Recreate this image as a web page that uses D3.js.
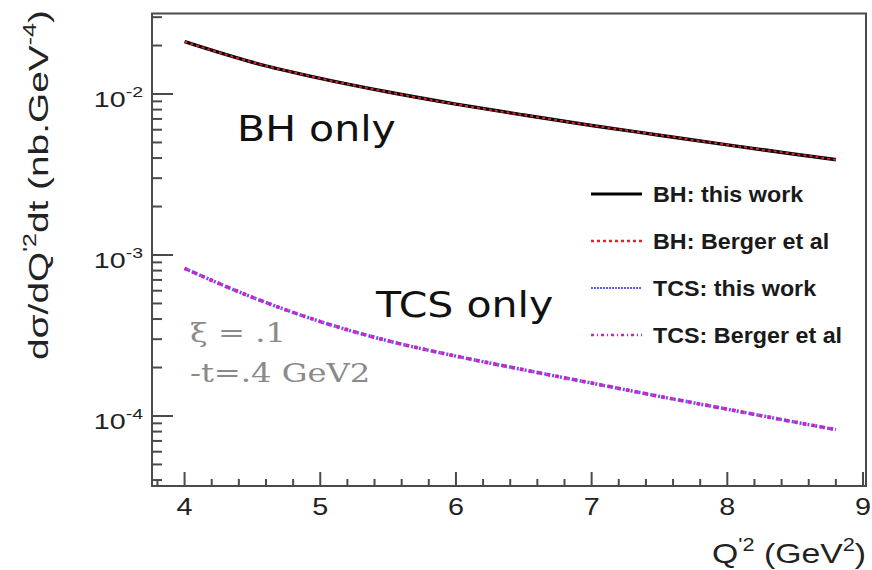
<!DOCTYPE html>
<html>
<head>
<meta charset="utf-8">
<script src="https://cdn.jsdelivr.net/npm/d3@7"></script>
<style>
  html, body { margin: 0; padding: 0; background: #fff; }
  svg { display: block; }
</style>
</head>
<body>
<svg id="chart" width="872" height="570"></svg>
<script>
// Q'^2 sample points (GeV^2)
const q2 = [4.0, 4.5, 5.0, 5.5, 6.0, 6.5, 7.0, 7.5, 8.0, 8.5, 8.8];

// Bethe-Heitler cross section (nb.GeV^-4)
const bhThisWork = [0.02113, 0.01574, 0.01250, 0.01028, 0.00865, 0.00740, 0.00638, 0.00555, 0.00483, 0.00423, 0.00391];
const bhBerger   = [0.02113, 0.01574, 0.01250, 0.01028, 0.00865, 0.00740, 0.00638, 0.00555, 0.00483, 0.00423, 0.00391];

// Timelike Compton scattering cross section (nb.GeV^-4)
const tcsThisWork = [8.26e-4, 5.46e-4, 3.86e-4, 2.93e-4, 2.355e-4, 1.936e-4, 1.601e-4, 1.324e-4, 1.102e-4, 9.16e-5, 8.23e-5];
const tcsBerger   = [8.26e-4, 5.46e-4, 3.86e-4, 2.93e-4, 2.355e-4, 1.936e-4, 1.601e-4, 1.324e-4, 1.102e-4, 9.16e-5, 8.23e-5];

const xMajorTicks = [4, 5, 6, 7, 8, 9];
const yMajorTicks = [1e-4, 1e-3, 1e-2];
const yTickExponents = ["-4", "-3", "-2"];

const legendLabels = ["BH: this work", "BH: Berger et al", "TCS: this work", "TCS: Berger et al"];

const svg = d3.select("#chart");
const frame = { left: 152, right: 866, top: 13.5, bottom: 486 };

const x = d3.scaleLinear().domain([3.76, 9.022]).range([frame.left, frame.right]);
const y = d3.scaleLog().domain([3.674e-5, 0.03162]).range([frame.bottom, frame.top]);

const axisColor = "#4a4a4a";
const sans = "'Liberation Sans', Arial, Helvetica, sans-serif";

// plot frame
svg.append("rect")
  .attr("x", frame.left).attr("y", frame.top)
  .attr("width", frame.right - frame.left).attr("height", frame.bottom - frame.top)
  .attr("fill", "none").attr("stroke", axisColor).attr("stroke-width", 2);

// x ticks: majors at integers, minors every 0.2
const xMinor = d3.range(3.8, 9.01, 0.2).map(v => Math.round(v * 10) / 10)
  .filter(v => !xMajorTicks.includes(v));
svg.append("g").selectAll("line").data(xMinor).join("line")
  .attr("x1", d => x(d)).attr("x2", d => x(d))
  .attr("y1", frame.bottom).attr("y2", frame.bottom - 7)
  .attr("stroke", axisColor).attr("stroke-width", 2);
svg.append("g").selectAll("line").data(xMajorTicks).join("line")
  .attr("x1", d => x(d)).attr("x2", d => x(d))
  .attr("y1", frame.bottom).attr("y2", frame.bottom - 14)
  .attr("stroke", axisColor).attr("stroke-width", 2);

// x tick labels
svg.append("g").selectAll("g").data(xMajorTicks).join("g")
  .attr("transform", d => `translate(${x(d)},515)`)
  .append("text")
  .attr("text-anchor", "middle")
  .attr("transform", "scale(1.25,1)")
  .attr("font-family", sans).attr("font-size", 23).attr("fill", "#222")
  .text(d => d);

// y ticks: decades are major, the rest minor
const yAll = y.ticks();
const yMinor = yAll.filter(v => !yMajorTicks.some(m => Math.abs(m - v) / m < 1e-6));
svg.append("g").selectAll("line").data(yMinor).join("line")
  .attr("x1", frame.left).attr("x2", frame.left + 10)
  .attr("y1", d => y(d)).attr("y2", d => y(d))
  .attr("stroke", axisColor).attr("stroke-width", 2);
svg.append("g").selectAll("line").data(yMajorTicks).join("line")
  .attr("x1", frame.left).attr("x2", frame.left + 21)
  .attr("y1", d => y(d)).attr("y2", d => y(d))
  .attr("stroke", axisColor).attr("stroke-width", 2);

// y tick labels: 10^n
const yLab = svg.append("g").selectAll("g").data(yMajorTicks).join("g")
  .attr("transform", d => `translate(143,${y(d) + 13})`)
  .append("text")
  .attr("text-anchor", "end")
  .attr("transform", "scale(1.3,1)")
  .attr("font-family", sans).attr("font-size", 22).attr("fill", "#222");
yLab.append("tspan").text("10");
yLab.append("tspan").attr("dy", -10).attr("font-size", 15).text((d, i) => yTickExponents[i]);

// stretch a text node horizontally to span a given width
function fitWidth(textSel, width) {
  const w = textSel.node().getBBox().width;
  textSel.attr("transform", `scale(${width / w},1)`);
}

// x axis title
const xTitle = svg.append("g").attr("transform", "translate(866,563)")
  .append("text").attr("text-anchor", "end")
  .attr("font-family", sans).attr("font-size", 28).attr("fill", "#222");
xTitle.append("tspan").text("Q");
xTitle.append("tspan").attr("dy", -12).attr("font-size", 18).text("'2");
xTitle.append("tspan").attr("dy", 12).text(" (GeV");
xTitle.append("tspan").attr("dy", -12).attr("font-size", 18).text("2");
xTitle.append("tspan").attr("dy", 12).text(")");
fitWidth(xTitle, 154);

// y axis title
const yTitle = svg.append("g").attr("transform", "translate(48,360) rotate(-90)")
  .append("text").attr("text-anchor", "start")
  .attr("font-family", sans).attr("font-size", 28).attr("fill", "#222");
yTitle.append("tspan").text("dσ/dQ");
yTitle.append("tspan").attr("dy", -12).attr("font-size", 18).text("'2");
yTitle.append("tspan").attr("dy", 12).text("dt (nb.GeV");
yTitle.append("tspan").attr("dy", -12).attr("font-size", 18).text("-4");
yTitle.append("tspan").attr("dy", 12).text(")");
fitWidth(yTitle, 350);

// curves
const line = (vals) => d3.line()
  .x((d, i) => x(q2[i]))
  .y(d => y(d))
  .curve(d3.curveMonotoneX)(vals);

const series = [
  { vals: bhThisWork,  color: "#000000", width: 3.5, dash: null },
  { vals: bhBerger,    color: "#e3222a", width: 2,   dash: "3,3" },
  { vals: tcsThisWork, color: "#5a5cf0", width: 3.5, dash: "2,2" },
  { vals: tcsBerger,   color: "#d21fc8", width: 3.5, dash: "4,5" }
];
const plot = svg.append("g");
series.forEach(s => {
  plot.append("path")
    .attr("d", line(s.vals))
    .attr("fill", "none")
    .attr("stroke", s.color)
    .attr("stroke-width", s.width)
    .attr("stroke-dasharray", s.dash);
});

// legend
const legendStyles = [
  { color: "#000000", width: 3,   dash: null },
  { color: "#e3222a", width: 2.5, dash: "3,3" },
  { color: "#5a5cf0", width: 2,   dash: "2,1" },
  { color: "#d21fc8", width: 2.5, dash: "3,3,1,3" }
];
const legend = svg.append("g");
legendLabels.forEach((lab, i) => {
  const cy = 194 + i * 47;
  legend.append("line")
    .attr("x1", 591).attr("x2", 642)
    .attr("y1", cy).attr("y2", cy)
    .attr("stroke", legendStyles[i].color)
    .attr("stroke-width", legendStyles[i].width)
    .attr("stroke-dasharray", legendStyles[i].dash);
  legend.append("g").attr("transform", `translate(653,${cy + 8})`)
    .append("text")
    .attr("transform", "scale(1.06,1)")
    .attr("font-family", sans).attr("font-weight", "bold")
    .attr("font-size", 22).attr("fill", "#1a1a1a")
    .text(lab);
});

// region labels
const bigFont = "'DejaVu Sans', Verdana, sans-serif";
svg.append("g").attr("transform", "translate(237,141)")
  .append("text").attr("transform", "scale(1.14,1)")
  .attr("font-family", bigFont).attr("font-size", 36).attr("fill", "#111")
  .text("BH only");
svg.append("g").attr("transform", "translate(376,317)")
  .append("text").attr("transform", "scale(1.14,1)")
  .attr("font-family", bigFont).attr("font-size", 36).attr("fill", "#111")
  .text("TCS only");

// kinematics note
const serif = "'DejaVu Serif', serif";
svg.append("g").attr("transform", "translate(190,342)")
  .append("text").attr("transform", "scale(1.24,1)")
  .attr("font-family", serif).attr("font-size", 26).attr("fill", "#8a8a8a")
  .text("ξ = .1");
svg.append("g").attr("transform", "translate(190,382)")
  .append("text").attr("transform", "scale(1.24,1)")
  .attr("font-family", serif).attr("font-size", 26).attr("fill", "#8a8a8a")
  .text("-t=.4 GeV2");
</script>
</body>
</html>
